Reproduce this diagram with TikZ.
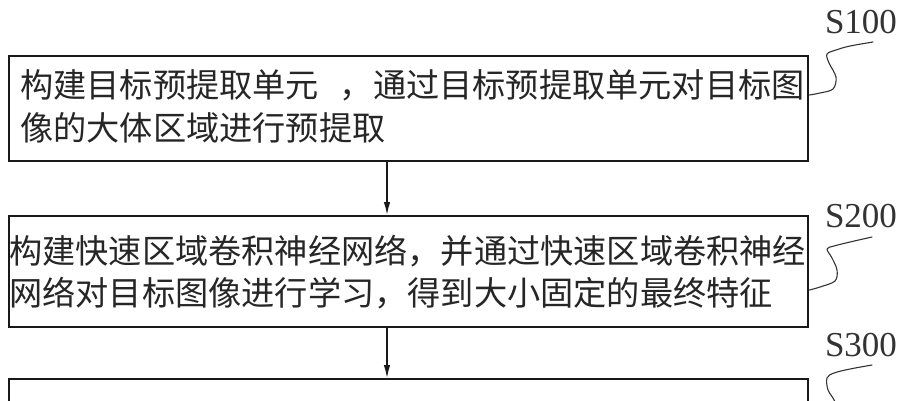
\documentclass[tikz,border=0pt]{standalone}
\usepackage{fontspec}
\setmainfont{Liberation Serif}
\newfontfamily\cjk[WordSpace=2.8]{Noto Sans CJK SC}
\usetikzlibrary{arrows.meta,calc}
\begin{document}
\begin{tikzpicture}[x=1pt,y=-1pt,
  stepbox/.style={draw=black!90, line width=1.5pt, minimum width=799pt, inner sep=0pt, anchor=north west, fill=white},
  txtline/.style={font=\cjk\fontsize{33.2pt}{42pt}\selectfont, anchor=base west, inner sep=0pt, text=black!85},
  tag/.style={font=\fontsize{35pt}{35pt}\selectfont, anchor=base, inner sep=0pt, text=black!80},
  flow/.style={draw=black!90, line width=1.4pt, -{Latex[length=13pt,width=6.5pt]}},
  brace/.style={draw=black!80, line width=1.1pt, line join=round, line cap=round}]
\useasboundingbox (0,0) rectangle (907,400);
\fill[white] (0,0) rectangle (907,400);
\clip (0,0) rectangle (907,400);

% boxes
\node[stepbox, minimum height=105pt] (b1) at (8,55) {};
\node[stepbox, minimum height=111pt] (b2) at (8,215) {};
\node[stepbox, minimum height=80pt] (b3) at (8,378) {};

% texts
\node[txtline] (t1a) at (20,97.5) {构建目标预提取单元 ，通过目标预提取单元对目标图};
\node[txtline] (t1b) at (20,140) {像的大体区域进行预提取};
\node[txtline] (t2a) at (9,263) {构建快速区域卷积神经网络，并通过快速区域卷积神经};
\node[txtline] (t2b) at (9,305) {网络对目标图像进行学习，得到大小固定的最终特征};

% step labels
\node[tag] (s1) at (861,33) {S100};
\node[tag] (s2) at (861,227) {S200};
\node[tag] (s3) at (861,356) {S300};

% arrows
\coordinate (ax) at (387,0);
\draw[flow] (b1.south -| ax) -- (b2.north -| ax);
\draw[flow] (b2.south -| ax) -- (b3.north -| ax);

% squiggles
\coordinate (k1) at (873,42);
\coordinate (e1) at ($(b1.north east)+(1,40)$);
\draw[brace] plot[smooth, tension=0.55] coordinates {(k1) (850,46) (836,50) (827,54) (829,63) (836,77) (833,89) (820,93) (e1)};

\coordinate (k2) at (872,237);
\coordinate (e2) at ($(b2.north east)+(1,75)$);
\draw[brace] plot[smooth, tension=0.55] coordinates {(k2) (850,242) (834,246) (827,249) (832,258) (837,270) (835,281) (820,287) (e2)};

\coordinate (k3) at (872,365);
\coordinate (e3) at (838,420);
\draw[brace] plot[smooth, tension=0.55] coordinates {(k3) (850,369) (834,373) (827,378) (828,390) (835,402) (e3)};
\end{tikzpicture}
\end{document}
